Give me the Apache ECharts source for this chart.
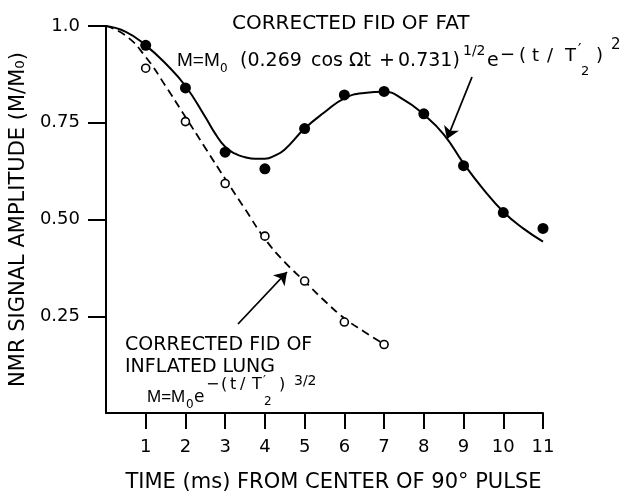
<!DOCTYPE html>
<html><head><meta charset="utf-8">
<script src="https://cdn.jsdelivr.net/npm/echarts@6/dist/echarts.min.js"></script>
<style>html,body{margin:0;padding:0;background:#fff}#c{width:634px;height:498px}</style>
</head><body><div id="c"></div>
<script>
// ---- data ----
const fatT = [1, 2, 3, 4, 5, 6, 7, 8, 9, 10, 11];
const fatM = [0.95, 0.84, 0.674, 0.631, 0.735, 0.822, 0.831, 0.773, 0.639, 0.518, 0.477];
const lungT = [1, 2, 3, 4, 5, 6, 7];
const lungM = [0.891, 0.753, 0.593, 0.457, 0.341, 0.235, 0.177];
const fatCurveT = [0, 0.5, 1, 1.5, 2, 2.5, 2.75, 3, 3.25, 3.5, 3.75, 4, 4.25, 4.5, 5, 5.5, 6, 6.5, 7, 7.5, 8, 8.5, 9, 9.5, 10, 10.5, 11];
const fatCurveM = [1.0, 0.985, 0.95, 0.903, 0.845, 0.765, 0.722, 0.688, 0.670, 0.661, 0.657, 0.657, 0.665, 0.681, 0.735, 0.777, 0.813, 0.827, 0.83, 0.809, 0.771, 0.72, 0.645, 0.578, 0.52, 0.477, 0.443];
const lungCurveT = [0, 0.5, 1, 1.5, 2, 2.5, 3, 3.5, 4, 4.5, 5, 5.5, 6, 6.5, 7];
const lungCurveM = [1.0, 0.975, 0.92, 0.845, 0.765, 0.685, 0.605, 0.527, 0.45, 0.39, 0.34, 0.29, 0.245, 0.21, 0.178];
const xTickValues = [1, 2, 3, 4, 5, 6, 7, 8, 9, 10, 11];
const xTickLabels = ['1', '2', '3', '4', '5', '6', '7', '8', '9', '10', '11'];
const yTickValues = [0.25, 0.5, 0.75, 1.0];
const yTickLabels = ['0.25', '0.50', '0.75', '1.0'];
const xTitle = 'TIME (ms) FROM CENTER OF 90° PULSE';
const yTitle = 'NMR SIGNAL AMPLITUDE (M/M\u2080)';

const INK = '#000';
const FONT = '"DejaVu Sans", sans-serif';
const NARROW = '"Liberation Sans", sans-serif';
const zip = (a, b) => a.map((v, i) => [v, b[i]]);

function T(text, x, y, size, family) {
  return {
    type: 'text', x: x, y: y, silent: true,
    style: { text: text, font: size + 'px ' + (family || FONT), fill: INK, textAlign: 'left', textVerticalAlign: 'middle' }
  };
}

const graphics = [
  // fat annotation
  T('CORRECTED FID OF FAT', 232, 24, 20),
  T('M=M', 177, 61, 19, NARROW),
  T('0', 220, 69, 12),
  T('(0.269', 240, 61, 19),
  T('cos', 311, 61, 19),
  T('\u03A9t', 349, 61, 19),
  T('+', 379, 61, 19),
  T('0.731)', 398, 61, 19),
  T('1/2', 463, 51, 14),
  T('e', 487, 61, 19),
  T('\u2212', 500, 55, 18),
  T('(', 519, 56, 18),
  T('t', 532, 56, 18),
  T('/', 547, 56, 18),
  T('T', 565, 56, 18),
  T('\u2032', 578, 51, 15),
  T('2', 581, 72, 13),
  T(')', 596, 56, 18),
  T('2', 611, 45, 15),
  // lung annotation
  T('CORRECTED FID OF', 125, 345, 19),
  T('INFLATED LUNG', 125, 367, 19),
  T('M=M', 147, 397, 17, NARROW),
  T('0', 186, 405, 12),
  T('e', 194, 398, 17),
  T('\u2212', 206, 385, 16),
  T('(', 221, 385, 16),
  T('t', 230, 385, 16),
  T('/', 240, 385, 16),
  T('T', 252, 385, 16),
  T('\u2032', 263, 381, 13),
  T('2', 264, 402, 12),
  T(')', 279, 385, 16),
  T('3/2', 294, 381, 14)
];

const chart = echarts.init(document.getElementById('c'), null, { renderer: 'canvas' });
chart.setOption({
  animation: false,
  backgroundColor: '#fff',
  grid: { left: 103, right: 91, top: 26, bottom: 76, containLabel: false },
  xAxis: {
    type: 'value', min: 0, max: 11, interval: 1,
    name: xTitle, nameLocation: 'middle', nameGap: 59,
    nameTextStyle: { fontFamily: FONT, fontSize: 21, color: INK, padding: [0, 0, 0, 18] },
    axisLine: { show: true, onZero: false, lineStyle: { color: INK, width: 2 } },
    axisTick: { show: true, inside: false, length: 16, customValues: xTickValues, lineStyle: { color: INK, width: 2 } },
    axisLabel: {
      show: true, margin: 25, customValues: xTickValues,
      fontFamily: FONT, fontSize: 18, color: INK,
      formatter: v => xTickLabels[xTickValues.indexOf(v)] || ''
    },
    splitLine: { show: false }
  },
  yAxis: {
    type: 'value', min: 0, max: 1, interval: 0.25,
    name: yTitle, nameLocation: 'middle', nameGap: 67, nameRotate: 90,
    nameTextStyle: { fontFamily: FONT, fontSize: 21, color: INK },
    axisLine: { show: true, onZero: false, lineStyle: { color: INK, width: 2 } },
    axisTick: { show: true, inside: false, length: 18, customValues: yTickValues, lineStyle: { color: INK, width: 2 } },
    axisLabel: {
      show: true, margin: 26, customValues: yTickValues,
      fontFamily: FONT, fontSize: 18, color: INK,
      formatter: v => yTickLabels[yTickValues.indexOf(v)] || ''
    },
    splitLine: { show: false }
  },
  graphic: graphics,
  series: [
    {
      name: 'fat fit', type: 'line', data: zip(fatCurveT, fatCurveM), smooth: 0.5,
      showSymbol: false, symbol: 'none', lineStyle: { color: INK, width: 2 }, z: 2,
      markLine: {
        silent: true, symbol: ['none', 'arrow'], symbolSize: 12,
        lineStyle: { color: INK, width: 1.8, type: 'solid' }, label: { show: false },
        emphasis: { disabled: true },
        data: [
          [{ x: 472, y: 77 }, { x: 447, y: 139 }],
          [{ x: 238, y: 324 }, { x: 287, y: 272 }]
        ]
      }
    },
    {
      name: 'lung fit', type: 'line', data: zip(lungCurveT, lungCurveM), smooth: 0.5,
      showSymbol: false, symbol: 'none', lineStyle: { color: INK, width: 1.8, type: [8, 5] }, z: 2
    },
    {
      name: 'fat', type: 'scatter', data: zip(fatT, fatM), symbol: 'circle', symbolSize: 11,
      itemStyle: { color: INK, opacity: 1 }, z: 4
    },
    {
      name: 'lung', type: 'scatter', data: zip(lungT, lungM), symbol: 'circle', symbolSize: 8,
      itemStyle: { color: '#fff', borderColor: INK, borderWidth: 1.6, opacity: 1 }, z: 4
    }
  ]
});
</script></body></html>
